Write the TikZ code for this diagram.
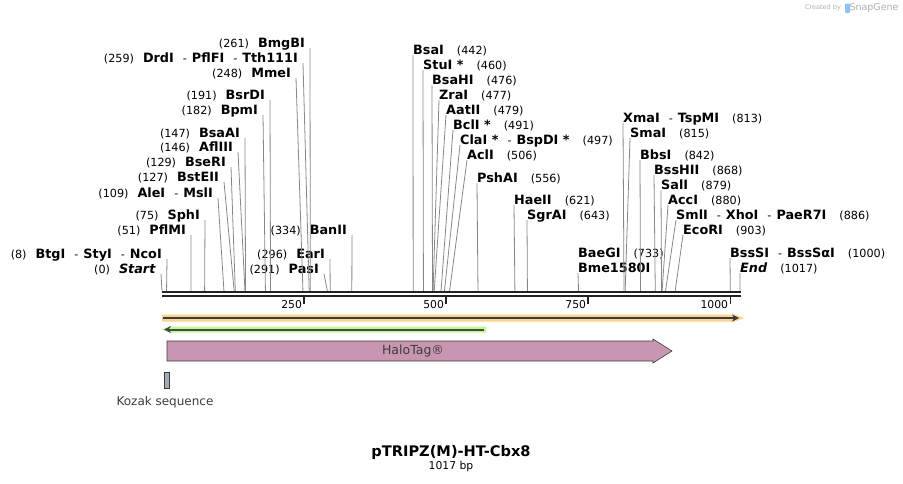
\documentclass[tikz,border=0pt]{standalone}
\usepackage{fontspec}
\setmainfont{DejaVu Sans}
\usetikzlibrary{arrows.meta,positioning}
\definecolor{sgcut}{RGB}{135,135,135}
\definecolor{sgaxis}{RGB}{34,34,34}
\definecolor{sgorange}{RGB}{253,211,140}
\definecolor{sggreen}{RGB}{196,246,152}
\definecolor{sgline}{RGB}{60,60,60}
\definecolor{sggreenline}{RGB}{62,80,62}
\definecolor{sghalo}{RGB}{201,150,178}
\definecolor{sgkozak}{RGB}{162,170,180}
\definecolor{sgmark}{RGB}{175,175,175}
\definecolor{sglogo}{RGB}{140,195,240}

\newcommand{\sitebp}[1]{{\fontsize{11.2}{12}\selectfont(#1)}}
\newcommand{\enz}[1]{\textbf{#1}}
\newcommand{\enzsep}{\hspace{9pt}{\fontsize{11.2}{12}\selectfont-}\hspace{5pt}}
\newcommand{\lgap}{\hspace{9pt}}
\newcommand{\rgap}{\hspace{13pt}}

\begin{document}
\begin{tikzpicture}[x=1pt,y=-1pt,font=\fontsize{12.8}{14}\selectfont,
  lsite/.style={anchor=south east,inner xsep=5pt,inner ysep=0.8pt,text depth=0pt},
  rsite/.style={anchor=south west,inner xsep=0pt,inner ysep=0.8pt,text depth=0pt},
  cut/.style={sgcut,line width=0.8pt}]
  \useasboundingbox (0,0) rectangle (903,483);

  %% cut positions on the sequence (1 bp = 0.5683)
  \foreach \b in {0,8,51,75,109,127,129,146,147,182,191,248,259,261,291,296,334,
                  442,460,476,477,479,491,497,506,556,621,643,733,813,815,842,868,
                  879,880,886,903,1000,1017}
    \coordinate (s\b) at ({162+\b*0.5683},291);

  %% sites left of their line
  \node[lsite] (bmgbi)  at (310,48)  {\sitebp{261}\lgap\enz{BmgBI}};
  \node[lsite] (drdi)   at (303,63)  {\sitebp{259}\lgap\enz{DrdI}\enzsep\enz{PflFI}\enzsep\enz{Tth111I}};
  \node[lsite] (mmei)   at (296,78)  {\sitebp{248}\lgap\enz{MmeI}};
  \node[lsite] (bsrdi)  at (270,100) {\sitebp{191}\lgap\enz{BsrDI}};
  \node[lsite] (bpmi)   at (263,115) {\sitebp{182}\lgap\enz{BpmI}};
  \node[lsite] (bsaai)  at (245,138) {\sitebp{147}\lgap\enz{BsaAI}};
  \node[lsite] (afliii) at (238,152) {\sitebp{146}\lgap\enz{AflIII}};
  \node[lsite] (bseri)  at (231,167) {\sitebp{129}\lgap\enz{BseRI}};
  \node[lsite] (bsteii) at (224,182) {\sitebp{127}\lgap\enz{BstEII}};
  \node[lsite] (alei)   at (218,198) {\sitebp{109}\lgap\enz{AleI}\enzsep\enz{MslI}};
  \node[lsite] (sphi)   at (205,220) {\sitebp{75}\lgap\enz{SphI}};
  \node[lsite] (pflmi)  at (191,235) {\sitebp{51}\lgap\enz{PflMI}};
  \node[lsite] (btgi)   at (167,259) {\sitebp{8}\lgap\enz{BtgI}\enzsep\enz{StyI}\enzsep\enz{NcoI}};
  \node[lsite] (start)  at (161,274) {\sitebp{0}\lgap\enz{\textit{Start}}};
  \node[lsite] (banii)  at (352,235) {\sitebp{334}\lgap\enz{BanII}};
  \node[lsite] (eari)   at (330,259) {\sitebp{296}\lgap\enz{EarI}};
  \node[lsite] (pasi)   at (324,274) {\sitebp{291}\lgap\enz{PasI}};

  %% sites right of their line
  \node[rsite] (bsai)   at (413,55)  {\enz{BsaI}\rgap\sitebp{442}};
  \node[rsite] (stui)   at (423,70)  {\enz{StuI *}\rgap\sitebp{460}};
  \node[rsite] (bsahi)  at (432,85)  {\enz{BsaHI}\rgap\sitebp{476}};
  \node[rsite] (zrai)   at (439,100) {\enz{ZraI}\rgap\sitebp{477}};
  \node[rsite] (aatii)  at (446,115) {\enz{AatII}\rgap\sitebp{479}};
  \node[rsite] (bcli)   at (453,130) {\enz{BclI *}\rgap\sitebp{491}};
  \node[rsite] (clai)   at (460,145) {\enz{ClaI *}\enzsep\enz{BspDI *}\rgap\sitebp{497}};
  \node[rsite] (acli)   at (467,160) {\enz{AclI}\rgap\sitebp{506}};
  \node[rsite] (pshai)  at (477,183) {\enz{PshAI}\rgap\sitebp{556}};
  \node[rsite] (haeii)  at (514,205) {\enz{HaeII}\rgap\sitebp{621}};
  \node[rsite] (sgrai)  at (527,220) {\enz{SgrAI}\rgap\sitebp{643}};
  \node[rsite] (baegi)  at (578,258) {\enz{BaeGI}\rgap\sitebp{733}};
  \node[rsite] (bme)    at (578,273) {\enz{Bme1580I}};
  \node[rsite] (xmai)   at (623,123) {\enz{XmaI}\enzsep\enz{TspMI}\rgap\sitebp{813}};
  \node[rsite] (smai)   at (630,138) {\enz{SmaI}\rgap\sitebp{815}};
  \node[rsite] (bbsi)   at (640,160) {\enz{BbsI}\rgap\sitebp{842}};
  \node[rsite] (bsshii) at (654,175) {\enz{BssHII}\rgap\sitebp{868}};
  \node[rsite] (sali)   at (661,190) {\enz{SalI}\rgap\sitebp{879}};
  \node[rsite] (acci)   at (668,205) {\enz{AccI}\rgap\sitebp{880}};
  \node[rsite] (smli)   at (676,220) {\enz{SmlI}\enzsep\enz{XhoI}\enzsep\enz{PaeR7I}\rgap\sitebp{886}};
  \node[rsite] (ecori)  at (683,235) {\enz{EcoRI}\rgap\sitebp{903}};
  \node[rsite] (bsssi)  at (730,258) {\enz{BssSI}\enzsep\enz{BssSαI}\rgap\sitebp{1000}};
  \node[rsite] (stop)   at (740,273) {\enz{\textit{End}}\rgap\sitebp{1017}};

  %% cut lines
  \foreach \n/\b in {bmgbi/261,drdi/259,mmei/248,bsrdi/191,bpmi/182,bsaai/147,afliii/146,
                     bseri/129,bsteii/127,alei/109,sphi/75,pflmi/51,btgi/8,start/0,
                     banii/334,eari/296,pasi/291}
    \draw[cut] (\n.south east) -- (s\b);
  \foreach \n/\b in {bsai/442,stui/460,bsahi/476,zrai/477,aatii/479,bcli/491,clai/497,
                     acli/506,pshai/556,haeii/621,sgrai/643,bme/733,xmai/813,smai/815,
                     bbsi/842,bsshii/868,sali/879,acci/880,smli/886,ecori/903,
                     bsssi/1000,stop/1017}
    \draw[cut] (\n.south west) -- (s\b);

  %% sequence, two strands and ruler
  \draw[sgaxis,line width=2.2pt] (162,292) -- (741,292);
  \draw[sgaxis,line width=2.2pt] (162,296) -- (741,296);
  \foreach \t in {250,500,750,1000} {
    \draw[sgaxis,line width=1.6pt] ({162+\t*0.5683},297) -- ++(0,7);
    \node[anchor=east,inner sep=0.5pt,font=\fontsize{10.8}{12}\selectfont] (t\t)
      at ({162+\t*0.5683-1.5},304.5) {\t};
  }

  %% features
  \fill[sgorange] (162,314.5) -- (735,314.5) -- (744,318) -- (735,321.5) -- (162,321.5) -- cycle;
  \draw[sgline,line width=2pt,-{Stealth[length=7pt,width=7pt]}] (163,318) -- (739,318);
  \fill[sggreen] (486,326.5) -- (171,326.5) -- (161,329.5) -- (171,332.5) -- (486,332.5) -- cycle;
  \draw[sggreenline,line width=2pt,-{Stealth[length=7pt,width=7pt]}] (484,329.5) -- (164,329.5);
  \draw[sgline,fill=sghalo,line width=0.6pt] (167,341) -- (653,341) -- (653,339) -- (672,351)
    -- (653,363) -- (653,361) -- (167,361) -- cycle;
  \node[text=sgline,font=\fontsize{12.5}{14}\selectfont] (halo) at (413,351) {HaloTag®};
  \draw[sgline,fill=sgkozak,line width=0.6pt] (164,372) rectangle (169,388);
  \node[text=sgline,font=\fontsize{12}{14}\selectfont] (kozak) at (165,402) {Kozak sequence};

  %% title
  \node[font=\fontsize{14.6}{16}\selectfont\bfseries] (title) at (451,452) {pTRIPZ(M)-HT-Cbx8};
  \node[font=\fontsize{10.8}{12}\selectfont] (len) at (451,467) {1017 bp};

  %% watermark
  \node[text=sgmark,font=\fontsize{6.5}{7}\selectfont] (made) at (823,8) {Created by};
  \fill[sglogo,rounded corners=1pt] (845,3.5) rectangle (850,13);
  \node[text=sgmark,font=\fontsize{9.5}{10}\selectfont] (snapgene) at (874,8) {SnapGene};
\end{tikzpicture}
\end{document}
